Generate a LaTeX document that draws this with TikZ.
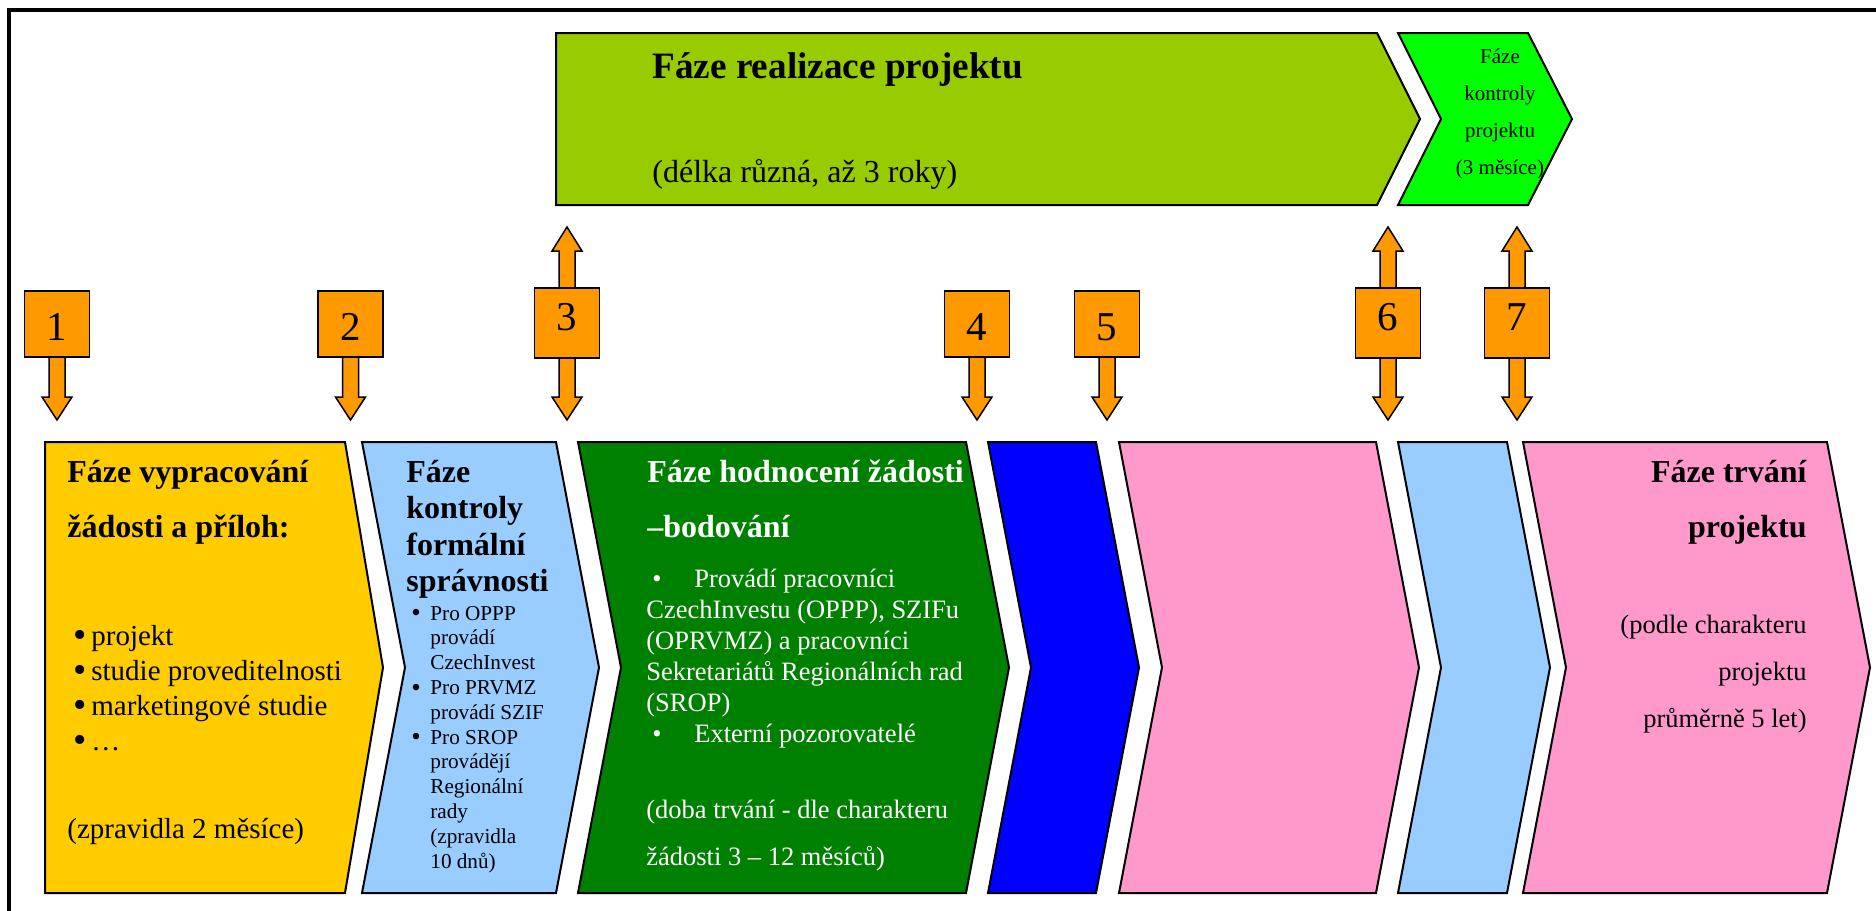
\documentclass[tikz,border=0pt]{standalone}
\usepackage{fontspec}
\setmainfont{Liberation Serif}
\usepackage{xcolor}
\usetikzlibrary{calc, backgrounds}

\definecolor{phyellow}{HTML}{FFCC00}
\definecolor{phsky}{HTML}{99CCFF}
\definecolor{phgreen}{HTML}{008000}
\definecolor{phblue}{HTML}{0000FF}
\definecolor{phpink}{HTML}{FF99CC}
\definecolor{phlime}{HTML}{99CC00}
\definecolor{phbright}{HTML}{00FF00}
\definecolor{markorange}{HTML}{FF9900}

% bullet items
\newcommand{\ybul}{\makebox[9pt][l]{\raisebox{-1.3pt}{\fontsize{19}{19}\selectfont•}}}
\newcommand{\itm}{\makebox[9.5pt][l]{\raisebox{-0.8pt}{\fontsize{13.5}{13.5}\selectfont•}}}
\newcommand{\ind}{\hspace*{9.5pt}}
\newcommand{\gitm}{\makebox[24pt][l]{\hspace{3pt}•}}

% arrow bodies from a marker to its tip
\newcommand{\tipdown}[2]{%
  \draw[tip body] ($(#1.south)+(-8,-3)$) -- ($(#2)+(-8,-23)$) -- ($(#2)+(-15,-23)$)
    -- (#2) -- ($(#2)+(15,-23)$) -- ($(#2)+(8,-23)$) -- ($(#1.south)+(8,-3)$) -- cycle;}
\newcommand{\tipup}[2]{%
  \draw[tip body] ($(#1.north)+(-8,3)$) -- ($(#2)+(-8,24)$) -- ($(#2)+(-15,24)$)
    -- (#2) -- ($(#2)+(15,24)$) -- ($(#2)+(8,24)$) -- ($(#1.north)+(8,3)$) -- cycle;}

\begin{document}
\begin{tikzpicture}[x=0.5pt,y=-0.5pt,
    phase box/.style={draw=black,line width=1pt,line join=miter},
    mark box/.style={draw=black,fill=markorange,line width=0.75pt,minimum width=32.5pt,
      minimum height=33pt,inner sep=0pt,font=\fontsize{20.5}{24}\selectfont,
      text height=16pt,text depth=0pt},
    both ways/.style={minimum height=35pt,text height=7pt},
    tip body/.style={draw=black,fill=markorange,line width=0.75pt,line join=miter},
    title text/.style={font=\fontsize{16}{27.5}\selectfont\bfseries,align=left,
      anchor=base west,inner sep=0pt},
    body text/.style={font=\fontsize{13.25}{15.5}\selectfont,align=left,
      anchor=base west,inner sep=0pt}]

  \useasboundingbox (0,0) rectangle (1876,911);
  \draw[line width=1.75pt] (9,911) -- (9,10) -- (1876,10);

  % upper row
  \path[phase box,fill=phlime] (556,33) -- (1377,33) -- (1420,119) -- (1377,205)
    -- (556,205) -- cycle;
  \path[phase box,fill=phbright] (1398,33) -- (1528,33) -- (1572,119) -- (1528,205)
    -- (1398,205) -- (1441,119) -- cycle;

  % lower row
  \path[phase box,fill=phyellow] (45,442) -- (345,442) -- (383,667.5) -- (345,893)
    -- (45,893) -- cycle;
  \foreach \l/\r/\c in {362/556/phsky,578/966/phgreen,988/1096/phblue,
                        1119/1376/phpink,1398/1507/phsky,1523/1827/phpink}
    \path[phase box,fill=\c] (\l,442) -- (\r,442) -- (\r+43,667.5) -- (\r,893)
      -- (\l,893) -- (\l+43,667.5) -- cycle;

  % texts, placed at the baseline of their last line
  \node[title text,font=\fontsize{18.6}{22}\selectfont\bfseries] (rt) at (652,78)
    {Fáze realizace projektu};
  \node[body text,font=\fontsize{16}{19}\selectfont] (rd) at (652,182)
    {(délka různá, až 3 roky)};
  \node[body text,align=center,anchor=base,font=\fontsize{10.5}{18.5}\selectfont] (kt)
    at (1500,174) {Fáze\\kontroly\\projektu\\(3 měsíce)};

  \node[title text] (t1) at (67,537) {Fáze vypracování\\žádosti a příloh:};
  \node[body text,font=\fontsize{14.5}{17.5}\selectfont] (l1) at (73,750)
    {\ybul projekt\\\ybul studie proveditelnosti\\\ybul marketingové studie\\\ybul …};
  \node[body text,font=\fontsize{14.5}{17.5}\selectfont] (d1) at (67,838)
    {(zpravidla 2 měsíce)};

  \node[title text,font=\fontsize{16}{18.25}\selectfont\bfseries] (t2) at (406,591.5)
    {Fáze\\kontroly\\formální\\správnosti};
  \node[body text,font=\fontsize{10.6}{12.4}\selectfont] (l2) at (411,868)
    {\itm Pro OPPP\\\ind provádí\\\ind CzechInvest\\\itm Pro PRVMZ\\\ind provádí SZIF\\
     \itm Pro SROP\\\ind provádějí\\\ind Regionální\\\ind rady\\\ind (zpravidla\\\ind 10 dnů)};

  \node[title text,text=white] (t3) at (647,537) {Fáze hodnocení žádosti\\–bodování};
  \node[body text,text=white] (l3) at (646,742)
    {\gitm Provádí pracovníci\\CzechInvestu (OPPP), SZIFu\\(OPRVMZ) a pracovníci\\
     Sekretariátů Regionálních rad\\(SROP)\\\gitm Externí pozorovatelé};
  \node[body text,text=white,font=\fontsize{13.25}{23.5}\selectfont] (d3) at (646,865)
    {(doba trvání - dle charakteru\\žádosti 3 – 12 měsíců)};

  \node[title text,align=right,anchor=base east] (t7) at (1807,537) {Fáze trvání\\projektu};
  \node[body text,align=right,anchor=base east,font=\fontsize{13.25}{23.5}\selectfont] (d7)
    at (1807,727) {(podle charakteru\\projektu\\průměrně 5 let)};

  % numbered markers
  \node[mark box] (m1) at (57,324) {1};
  \node[mark box] (m2) at (350.5,324) {2};
  \node[mark box,both ways] (m3) at (567,323) {3};
  \node[mark box] (m4) at (977,324) {4};
  \node[mark box] (m5) at (1107,324) {5};
  \node[mark box,both ways] (m6) at (1388,323) {6};
  \node[mark box,both ways] (m7) at (1517,323) {7};

  \foreach \i/\x in {1/57,2/350.5,3/567,4/977,5/1107,6/1388,7/1517}
    \coordinate (d\i) at (\x,420);
  \foreach \i/\x in {3/567,6/1388,7/1517}
    \coordinate (u\i) at (\x,227);

  \begin{scope}[on background layer]
    \foreach \i in {1,...,7} \tipdown{m\i}{d\i};
    \foreach \i in {3,6,7} \tipup{m\i}{u\i};
  \end{scope}
\end{tikzpicture}
\end{document}
